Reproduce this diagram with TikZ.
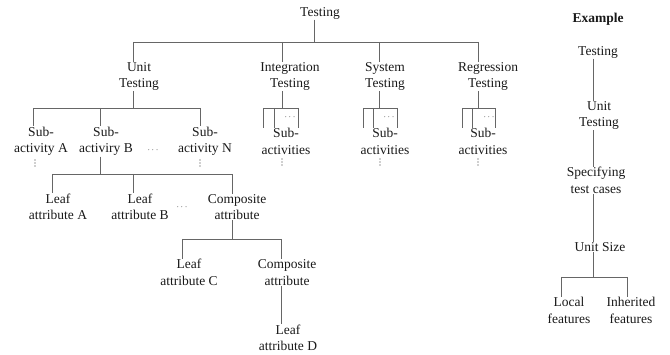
\documentclass[tikz,border=0pt]{standalone}
\usepackage{fontspec}
\setmainfont{Liberation Serif}
\begin{document}
\begin{tikzpicture}[x=1pt,y=-1pt,
  every node/.style={inner sep=0.5pt, align=center, font=\fontsize{13.5}{16.5}\selectfont, text=black!90},
  ln/.style={draw=black!60, line width=0.9pt},
  cd/.style={inner sep=0pt, font=\fontsize{9}{9}\selectfont},
  vdt/.style={fill=black!80}]
\useasboundingbox (0,0) rectangle (670,355);
% ---------- main tree nodes
\node (top) at (320,13) {Testing};
\node (unit) at (139,76.5) {Unit\\Testing};
\node (integ) at (290,76.5) {Integration\\Testing};
\node (sys) at (385,76.5) {System\\Testing};
\node (regr) at (488,76.5) {Regression\\Testing};
\node (subA) at (41,141.5) {Sub-\\activity A};
\node (subB) at (106,141.5) {Sub-\\activiry B};
\node (subN) at (205,141.5) {Sub-\\activity N};
\node (intSub) at (286,141.5) {Sub-\\activities};
\node (sysSub) at (385,141.5) {Sub-\\activities};
\node (regSub) at (483,141.5) {Sub-\\activities};
\node[cd] (dBN) at (153,150) {$\cdots$};
\node[cd] (dI) at (290,117.5) {$\cdots$};
\node[cd] (dS) at (389,117.5) {$\cdots$};
\node[cd] (dR) at (489,117.5) {$\cdots$};
\node (leafA) at (58,207) {Leaf\\attribute A};
\node (leafB) at (140,207) {Leaf\\attribute B};
\node[cd] (dL) at (182,207) {$\cdots$};
\node (compA) at (237,207) {Composite\\attribute};
\node (leafC) at (189,272.5) {Leaf\\attribute C};
\node (compB) at (287,272.5) {Composite\\attribute};
\node (leafD) at (288,338) {Leaf\\attribute D};
% vertical dots (drawn as small circles)
\foreach \x/\y in {35/163, 200/163, 282/162, 380/162, 478/162}
  \foreach \d in {-3,0,3}
    \fill[vdt] (\x,\y+\d) circle (0.65pt);
% ---------- example nodes
\node[font=\fontsize{13.5}{16.5}\selectfont\bfseries] (ex) at (598,19) {Example};
\node (exT) at (598,52) {Testing};
\node (exU) at (599,115.5) {Unit\\Testing};
\node (exS) at (596,180.5) {Specifying\\test cases};
\node (exUS) at (600,247) {Unit Size};
\node (exL) at (569,310.5) {Local\\features};
\node (exI) at (631,310.5) {Inherited\\features};
% ---------- junction coordinates
\coordinate (b0) at (314,42);
\coordinate (bU) at (133,42);
\coordinate (bI) at (282,42);
\coordinate (bS) at (379,42);
\coordinate (bR) at (478,42);
\coordinate (uP) at (133,108);
\coordinate (uA) at (33,108);
\coordinate (uB) at (100,108);
\coordinate (uN) at (200,108);
\coordinate (iP) at (282,108);
\coordinate (i1) at (263,108);
\coordinate (i2) at (274,108);
\coordinate (i3) at (298,108);
\coordinate (sP) at (379,108);
\coordinate (s1) at (363,108);
\coordinate (s2) at (373,108);
\coordinate (s3) at (397,108);
\coordinate (rP) at (478,108);
\coordinate (r1) at (462,108);
\coordinate (r2) at (472,108);
\coordinate (r3) at (495,108);
\coordinate (lP) at (100,174);
\coordinate (lA) at (52,174);
\coordinate (lB) at (133,174);
\coordinate (lC) at (232,174);
\coordinate (cP) at (232,239);
\coordinate (cC) at (182,239);
\coordinate (cD) at (281,239);
\coordinate (eX) at (593,0);
\coordinate (eP) at (593,277);
\coordinate (eL) at (561,277);
\coordinate (eI) at (627,277);
% ---------- connectors main tree
\draw[ln] (top.south -| b0) -- (b0);
\draw[ln] (bU) -- (bR);
\draw[ln] (bU) -- (unit.north -| bU);
\draw[ln] (bI) -- (integ.north -| bI);
\draw[ln] (bS) -- (sys.north -| bS);
\draw[ln] (bR) -- (regr.north -| bR);
\draw[ln] (unit.south -| uP) -- (uP);
\draw[ln] (uA) -- (uN);
\draw[ln] (uA) -- (subA.north -| uA);
\draw[ln] (uB) -- (subB.north -| uB);
\draw[ln] (uN) -- (subN.north -| uN);
\draw[ln] (integ.south -| iP) -- (iP);
\draw[ln] (i1) -- (i3);
\draw[ln] (i1) -- (intSub.north -| i1);
\draw[ln] (i2) -- (intSub.north -| i2);
\draw[ln] (i3) -- (intSub.north -| i3);
\draw[ln] (sys.south -| sP) -- (sP);
\draw[ln] (s1) -- (s3);
\draw[ln] (s1) -- (sysSub.north -| s1);
\draw[ln] (s2) -- (sysSub.north -| s2);
\draw[ln] (s3) -- (sysSub.north -| s3);
\draw[ln] (regr.south -| rP) -- (rP);
\draw[ln] (r1) -- (r3);
\draw[ln] (r1) -- (regSub.north -| r1);
\draw[ln] (r2) -- (regSub.north -| r2);
\draw[ln] (r3) -- (regSub.north -| r3);
\draw[ln] (subB.south -| lP) -- (lP);
\draw[ln] (lA) -- (lC);
\draw[ln] (lA) -- (leafA.north -| lA);
\draw[ln] (lB) -- (leafB.north -| lB);
\draw[ln] (lC) -- (compA.north -| lC);
\draw[ln] (compA.south -| cP) -- (cP);
\draw[ln] (cC) -- (cD);
\draw[ln] (cC) -- (leafC.north -| cC);
\draw[ln] (cD) -- (compB.north -| cD);
\draw[ln] (compB.south -| cD) -- (leafD.north -| cD);
% ---------- connectors example
\draw[ln] (exT.south -| eX) -- (exU.north -| eX);
\draw[ln] (exU.south -| eX) -- (exS.north -| eX);
\draw[ln] (exS.south -| eX) -- (exUS.north -| eX);
\draw[ln] (exUS.south -| eX) -- (eP);
\draw[ln] (eL) -- (eI);
\draw[ln] (eL) -- (exL.north -| eL);
\draw[ln] (eI) -- (exI.north -| eI);
\end{tikzpicture}
\end{document}
